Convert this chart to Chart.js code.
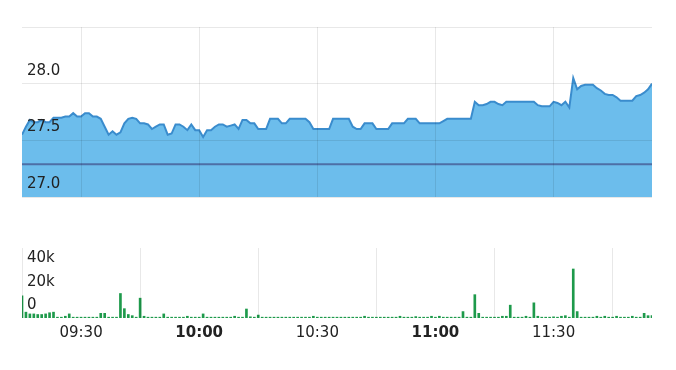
<!DOCTYPE html>
<html>
<head>
<meta charset="utf-8">
<script src="https://cdn.jsdelivr.net/npm/chart.js@4/dist/chart.umd.min.js"></script>
<style>
  body { margin: 0; background: #fff; }
  canvas { position: absolute; left: 0; }
  #price-chart { top: 0; }
  #volume-chart { top: 240px; }
</style>
</head>
<body>
<canvas id="price-chart" width="676" height="205"></canvas>
<canvas id="volume-chart" width="676" height="120"></canvas>
<script>
let startTime = '09:15'; // first minute of the series
let endTime = '11:55';
let tickLabels = ['09:30', '10:00', '10:30', '11:00', '11:30'];
let prevClose = 27.29; // dark reference line

// one price per minute from 09:15
let prices = [
  27.55, 27.62, 27.68, 27.66, 27.66, 27.68, 27.66, 27.66, 27.70, 27.70,
  27.70, 27.71, 27.71, 27.74, 27.71, 27.71, 27.74, 27.74, 27.71, 27.71,
  27.69, 27.62, 27.55, 27.58, 27.55, 27.57, 27.65, 27.69, 27.70, 27.69,
  27.65, 27.65, 27.64, 27.60, 27.62, 27.64, 27.64, 27.55, 27.56, 27.64,
  27.64, 27.62, 27.59, 27.64, 27.59, 27.59, 27.53, 27.59, 27.59, 27.62,
  27.64, 27.64, 27.62, 27.63, 27.64, 27.60, 27.68, 27.68, 27.65, 27.65,
  27.60, 27.60, 27.60, 27.69, 27.69, 27.69, 27.65, 27.65, 27.69, 27.69,
  27.69, 27.69, 27.69, 27.66, 27.60, 27.60, 27.60, 27.60, 27.60, 27.69,
  27.69, 27.69, 27.69, 27.69, 27.62, 27.60, 27.60, 27.65, 27.65, 27.65,
  27.60, 27.60, 27.60, 27.60, 27.65, 27.65, 27.65, 27.65, 27.69, 27.69,
  27.69, 27.65, 27.65, 27.65, 27.65, 27.65, 27.65, 27.67, 27.69, 27.69,
  27.69, 27.69, 27.69, 27.69, 27.69, 27.84, 27.81, 27.81, 27.82, 27.84,
  27.84, 27.82, 27.81, 27.84, 27.84, 27.84, 27.84, 27.84, 27.84, 27.84,
  27.84, 27.81, 27.80, 27.80, 27.80, 27.84, 27.83, 27.81, 27.84, 27.79,
  28.05, 27.95, 27.98, 27.99, 27.99, 27.99, 27.96, 27.94, 27.91, 27.90,
  27.90, 27.88, 27.85, 27.85, 27.85, 27.85, 27.89, 27.90, 27.92, 27.95,
  28.00
];

// volume per minute, same minutes
let volumes = [
  19000, 5000, 3500, 3500, 3000, 3000, 3500, 4500, 5000, 700,
  700, 1500, 3500, 700, 700, 700, 700, 700, 700, 700,
  4000, 4000, 700, 700, 700, 21000, 8000, 3000, 2000, 700,
  17000, 1500, 700, 700, 700, 700, 3500, 700, 700, 700,
  700, 700, 1500, 700, 700, 700, 3500, 700, 700, 700,
  700, 700, 700, 700, 1500, 700, 700, 7700, 1000, 700,
  2500, 700, 700, 700, 700, 700, 700, 700, 700, 700,
  700, 700, 700, 700, 1500, 700, 700, 700, 700, 700,
  700, 700, 700, 700, 700, 700, 700, 1500, 700, 700,
  700, 700, 700, 700, 700, 700, 1500, 700, 700, 700,
  1200, 700, 700, 700, 1500, 700, 1500, 700, 700, 700,
  700, 700, 5500, 700, 700, 20000, 4000, 700, 700, 700,
  700, 700, 1500, 1500, 11000, 700, 700, 700, 1500, 700,
  13000, 1500, 700, 700, 700, 1000, 700, 1500, 2000, 700,
  42000, 5500, 700, 700, 700, 700, 1500, 700, 1500, 700,
  700, 1500, 700, 700, 700, 1500, 700, 700, 4000, 2000,
  2000
];

const FONT = 'DejaVu Sans';
const GRID = 'rgba(0,0,0,0.09)';

function toMin(t) {
    let p = t.split(':');
    return parseInt(p[0]) * 60 + parseInt(p[1]);
}

function fmtMin(v) {
    let h = Math.floor(v / 60), m = v % 60;
    return String(h).padStart(2, '0') + ':' + String(m).padStart(2, '0');
}

// no label overflow padding, exact sizes
function fixSize(s, w, h) {
    if (w !== null) s.width = w;
    if (h !== null) s.height = h;
    s.paddingTop = 0; s.paddingBottom = 0;
    s.paddingLeft = 0; s.paddingRight = 0;
}

let t0 = toMin(startTime);
let pricePoints = prices.map((p, i) => ({ x: t0 + i, y: p }));
let volumePoints = volumes.map((v, i) => ({ x: t0 + i, y: v }));

function xAxis(showLabels, height, pad) {
    return {
        type: 'linear',
        min: t0,
        max: toMin(endTime),
        offset: false,
        afterBuildTicks: s => { s.ticks = tickLabels.map(t => ({ value: toMin(t) })); },
        afterFit: s => fixSize(s, null, height),
        grid: { color: GRID, drawTicks: false, z: 1 },
        border: { display: false },
        ticks: {
            display: showLabels,
            padding: pad,
            maxRotation: 0,
            autoSkip: false,
            color: '#222',
            callback: v => fmtMin(v),
            font: c => ({
                family: FONT,
                size: 15,
                weight: c.tick && fmtMin(c.tick.value).endsWith(':00') ? 'bold' : 'normal'
            })
        }
    };
}

Chart.defaults.animation = false;
Chart.defaults.plugins.legend.display = false;
Chart.defaults.plugins.tooltip.enabled = false;

let priceChart = new Chart(document.getElementById('price-chart'), {
    type: 'line',
    data: {
        datasets: [{
            data: [{ x: t0, y: prevClose }, { x: toMin(endTime), y: prevClose }],
            borderColor: '#4d6fa6',
            borderWidth: 2,
            pointRadius: 0,
            fill: false,
            order: 0
        }, {
            data: pricePoints,
            borderColor: '#3a8ccd',
            borderWidth: 2,
            backgroundColor: '#6cbdec',
            pointRadius: 0,
            tension: 0,
            fill: 'start',
            order: 1
        }]
    },
    options: {
        responsive: false,
        devicePixelRatio: 1,
        layout: { padding: { left: 22, right: 24, top: 27, bottom: 0 } },
        scales: {
            x: xAxis(false, 8, 0),
            y: {
                min: 27,
                max: 28.5,
                afterFit: s => fixSize(s, 0, null),
                grid: { color: GRID, drawTicks: false, z: 1 },
                border: { display: false },
                ticks: {
                    z: 2,
                    stepSize: 0.5,
                    mirror: true,
                    padding: 5,
                    labelOffset: -13,
                    color: '#222',
                    font: { family: FONT, size: 15 },
                    callback: v => v < 28.5 ? v.toFixed(1) : ''
                }
            }
        }
    }
});

let volumeChart = new Chart(document.getElementById('volume-chart'), {
    type: 'bar',
    data: {
        datasets: [{
            data: volumePoints,
            backgroundColor: '#1e9a4b',
            barThickness: 2
        }]
    },
    options: {
        responsive: false,
        devicePixelRatio: 1,
        layout: { padding: { left: 22, right: 24, top: 8, bottom: 0 } },
        scales: {
            x: xAxis(true, 42, 6),
            y: {
                min: 0,
                max: 60000,
                afterFit: s => fixSize(s, 0, null),
                grid: { display: false },
                border: { display: false },
                ticks: {
                    z: 2,
                    stepSize: 20000,
                    mirror: true,
                    padding: 5,
                    labelOffset: -13,
                    color: '#222',
                    font: { family: FONT, size: 15 },
                    callback: v => v === 0 ? '0' : (v < 60000 ? (v / 1000) + 'k' : '')
                }
            }
        }
    }
});
</script>
</body>
</html>
